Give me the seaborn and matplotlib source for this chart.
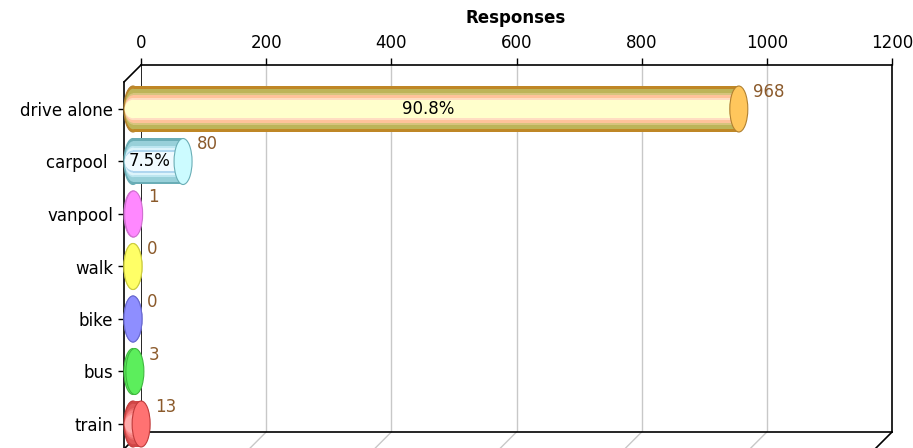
import matplotlib
matplotlib.use("Agg")
import matplotlib.pyplot as plt
import matplotlib.transforms as mtransforms
from matplotlib.patches import Ellipse
import numpy as np
import pandas as pd
import seaborn as sns

# === data ===
MODES = ["drive alone", "carpool", "vanpool", "walk", "bike", "bus", "train"]
RESPONSES = [968, 80, 1, 0, 0, 3, 13]
PERCENT_LABELS = ["90.8%", "7.5%", "", "", "", "", ""]
X_TICKS = [0, 200, 400, 600, 800, 1000, 1200]
X_LABEL = "Responses"

# === styling ===
# stripe colours of each cylinder, from the outer edge to the centre
LAYER_FRACS = [1.0, 0.88, 0.68, 0.60, 0.48, 0.40]
STRIPES = {
    "drive alone": ["#BF8726", "#BDB459", "#D6C47E", "#FFC29A", "#FFDDC2", "#FFFFCC"],
    "carpool": ["#6AADB6", "#98D0D9", "#BDE6F0", "#DDF4FB", "#AFD6EF", "#F0FAFF"],
    "vanpool": ["#FF88FF"] * 6,
    "walk": ["#FFFF66"] * 6,
    "bike": ["#8E8EFF"] * 6,
    "bus": ["#5CEE5C"] * 6,
    "train": ["#D04646", "#E05858", "#EC6C6C", "#F88080", "#FF9494", "#FFAAAA"],
}
CAP_FACE = {
    "drive alone": "#FFC65C", "carpool": "#CCFBFF", "vanpool": "#FF88FF",
    "walk": "#FFFF66", "bike": "#8E8EFF", "bus": "#5CEE5C", "train": "#FF7272",
}
CAP_EDGE = {
    "drive alone": "#B08030", "carpool": "#6AAEB6", "vanpool": "#D070D0",
    "walk": "#CCCC40", "bike": "#6A6AD0", "bus": "#40B840", "train": "#C03A3A",
}
VALUE_COLOR = "#8B5A2B"
GRID_COLOR = "#C8C8C8"
BAR_H_PX = 46        # cylinder thickness in pixels
CAP_W_PX = 18        # ellipse width of the end caps
SHIFT_PX = -8        # front of the cylinders vs. the back wall
DEPTH_PX = 17        # depth of the fake 3D box
FONT_SIZE = 12
PT = 72 / 100        # points per pixel at dpi 100

W, H = 913, 448
sns.set_style("white")
plt.rcParams["font.family"] = ["DejaVu Sans"]
plt.rcParams.update({"text.color": "black", "axes.labelcolor": "black",
                     "xtick.color": "black", "ytick.color": "black"})

fig, ax = plt.subplots(figsize=(W / 100, H / 100), dpi=100)
left, right, top, bottom = 141, 892, 65, 432
fig.subplots_adjust(left=left / W, right=right / W, top=1 - top / H, bottom=1 - bottom / H)

df = pd.DataFrame({"mode": MODES, "responses": RESPONSES})
px_per_cat = 52.5
first_center = 109
y_top = (top - first_center) / px_per_cat
y_bot = (bottom - first_center) / px_per_cat
bar_h = BAR_H_PX / px_per_cat

shift = ax.transData + mtransforms.Affine2D().translate(SHIFT_PX, 0)

# base bars (outer stripe colour)
sns.barplot(data=df, x="responses", y="mode", hue="mode", orient="h",
            palette=[STRIPES[m][0] for m in MODES], saturation=1, legend=False,
            width=bar_h, ax=ax, zorder=3)
for p in ax.patches:
    p.set_transform(shift)
    p.set_clip_on(False)
    p.set_linewidth(0)

ax.set_xlim(0, 1200)
ax.set_ylim(y_bot, y_top)


def px_ellipse(x, y, w, h, **kw):
    # ellipse sized in pixels, centred on a data point
    tr = mtransforms.ScaledTranslation(x, y, ax.transData) + mtransforms.Affine2D().translate(SHIFT_PX, 0)
    e = Ellipse((0, 0), w, h, transform=mtransforms.IdentityTransform() + tr, clip_on=False, **kw)
    ax.add_patch(e)
    return e


# left rounded ends + stripes of the body
for i, m in enumerate(MODES):
    px_ellipse(0, i, CAP_W_PX, BAR_H_PX, facecolor=STRIPES[m][0], edgecolor=CAP_EDGE[m],
               lw=0.8, zorder=2.95)
for k, frac in enumerate(LAYER_FRACS):
    if k == 0:
        continue
    cols = [STRIPES[m][k] for m in MODES]
    for i, m in enumerate(MODES):
        px_ellipse(0, i, CAP_W_PX - 1.6, BAR_H_PX * frac, facecolor=cols[i], edgecolor="none",
                   zorder=3 + k * 0.1)
    bars = ax.barh(np.arange(len(MODES)), RESPONSES, height=bar_h * frac, color=cols,
                   linewidth=0, zorder=3 + k * 0.1)
    for p in bars:
        p.set_transform(shift)
        p.set_clip_on(False)

# right end caps
for i, (m, v) in enumerate(zip(MODES, RESPONSES)):
    px_ellipse(v, i, CAP_W_PX, BAR_H_PX, facecolor=CAP_FACE[m], edgecolor=CAP_EDGE[m], lw=0.8, zorder=4)

# value labels and percentages
for i, (v, pct) in enumerate(zip(RESPONSES, PERCENT_LABELS)):
    ax.annotate(str(v), (v, i), xytext=(6, 17), textcoords="offset pixels",
                ha="left", va="center", color=VALUE_COLOR, fontsize=FONT_SIZE, zorder=6,
                annotation_clip=False)
    if pct:
        ax.annotate(pct, (v / 2, i), xytext=(-16, 0), textcoords="offset pixels",
                    ha="center", va="center", color="black", fontsize=FONT_SIZE, zorder=6,
                    annotation_clip=False)

# axes: ticks on top, grid, box
ax.xaxis.tick_top()
ax.set_xticks(X_TICKS)
ax.set_xticklabels([str(t) for t in X_TICKS], fontsize=FONT_SIZE)
ax.tick_params(axis="x", length=7 * PT, width=1, pad=6 * PT, direction="out")
ax.set_yticks(range(len(MODES)))
ax.set_yticklabels([m + " " if m == "carpool" else m for m in MODES])
ax.tick_params(axis="y", left=True, length=6 * PT, width=1, pad=5 * PT, labelsize=FONT_SIZE)
ax.set_xlabel("")
ax.set_ylabel("")
for t in X_TICKS[1:-1]:
    ax.axvline(t, color=GRID_COLOR, lw=1, zorder=1)
ax.axvline(0, color="black", lw=1.2, zorder=2)

for s in ["top", "right", "bottom"]:
    ax.spines[s].set_visible(True)
    ax.spines[s].set_color("black")
    ax.spines[s].set_linewidth(1.2)
ax.spines["left"].set_position(("outward", DEPTH_PX * PT))
ax.spines["left"].set_color("black")
ax.spines["left"].set_linewidth(1.2)
ax.spines["left"].set_bounds(y_top + DEPTH_PX / px_per_cat, y_bot + 20 / px_per_cat)

# depth diagonals of the fake 3D box
for x0, yy in [(0, y_top)] + [(t, y_bot) for t in X_TICKS]:
    col = "black" if x0 in (0, 1200) else GRID_COLOR
    p0 = ax.transData.transform((x0, yy))
    p1 = p0 + np.array([-DEPTH_PX, -DEPTH_PX])
    ax.add_line(plt.Line2D([p0[0], p1[0]], [p0[1], p1[1]], transform=mtransforms.IdentityTransform(),
                           color=col, lw=1.2 if col == "black" else 1, clip_on=False, zorder=2))

fig.text(516 / W, 1 - 18 / H, X_LABEL, ha="center", va="center", fontsize=FONT_SIZE, fontweight="bold")

fig.savefig("out.png", dpi=100)
